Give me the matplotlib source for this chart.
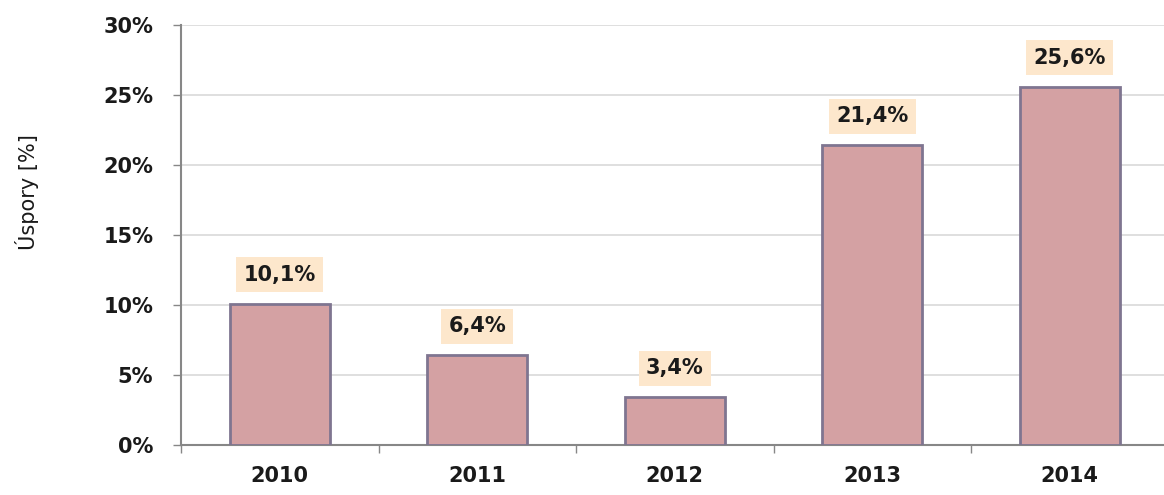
import matplotlib

matplotlib.use("Agg")
import matplotlib.pyplot as plt  # noqa: E402
from matplotlib.ticker import FixedLocator, FuncFormatter  # noqa: E402

years = ["2010", "2011", "2012", "2013", "2014"]
savings = [10.1, 6.4, 3.4, 21.4, 25.6]
value_labels = ["10,1%", "6,4%", "3,4%", "21,4%", "25,6%"]
y_ticks = [0, 5, 10, 15, 20, 25, 30]

BAR, EDGE = "#d4a1a3", "#7f7590"
GRID, AXIS, INK = "#d9d9d9", "#878787", "#1a1a1a"
LABEL_BG = "#fde7cc"

plt.rcParams["font.family"] = ["DejaVu Sans"]
SIZE = 15

fig = plt.figure(figsize=(11.64, 4.95), dpi=100)
ax = fig.add_axes([181 / 1164, 50 / 495, 987.5 / 1164, 420 / 495])

x = range(len(years))
ax.bar(x, savings, width=0.506, color=BAR, edgecolor=EDGE, linewidth=2, zorder=3)
for i, (v, lab) in enumerate(zip(savings, value_labels)):
    ax.annotate(lab, (i, v), xytext=(0, 29), textcoords="offset pixels",
                ha="center", va="center", fontsize=SIZE, fontweight="bold",
                color=INK, zorder=4,
                bbox=dict(boxstyle="square,pad=0.35", fc=LABEL_BG, ec="none"))

ax.set_xlim(-0.5, len(years) - 0.5)
ax.set_ylim(0, 30)
ax.set_xticks(list(x))
ax.set_xticklabels(years, fontweight="bold")
ax.xaxis.set_minor_locator(FixedLocator([i + 0.5 for i in range(-1, len(years))]))
ax.tick_params(axis="x", which="major", length=0, pad=15, labelsize=SIZE, labelcolor=INK)
ax.tick_params(axis="x", which="minor", length=6, width=1, color=AXIS, direction="out")
ax.set_yticks(y_ticks)
ax.yaxis.set_major_formatter(FuncFormatter(lambda v, _: f"{v:.0f}%"))
ax.tick_params(axis="y", length=6, width=1, color=AXIS, pad=14, labelsize=SIZE, labelcolor=INK)
for t in ax.get_yticklabels():
    t.set_fontweight("bold")

fig.text(27 / 1164, 1 - 192 / 495, "Úspory [%]", rotation=90, ha="center", va="center",
         fontsize=15, color=INK)

ax.grid(axis="y", color=GRID, lw=1.2, zorder=0)
ax.set_axisbelow(True)
for s in ("top", "right"):
    ax.spines[s].set_visible(False)
for s in ("left", "bottom"):
    ax.spines[s].set_color(AXIS)
    ax.spines[s].set_linewidth(1.5)

fig.savefig("out.png", dpi=100)
